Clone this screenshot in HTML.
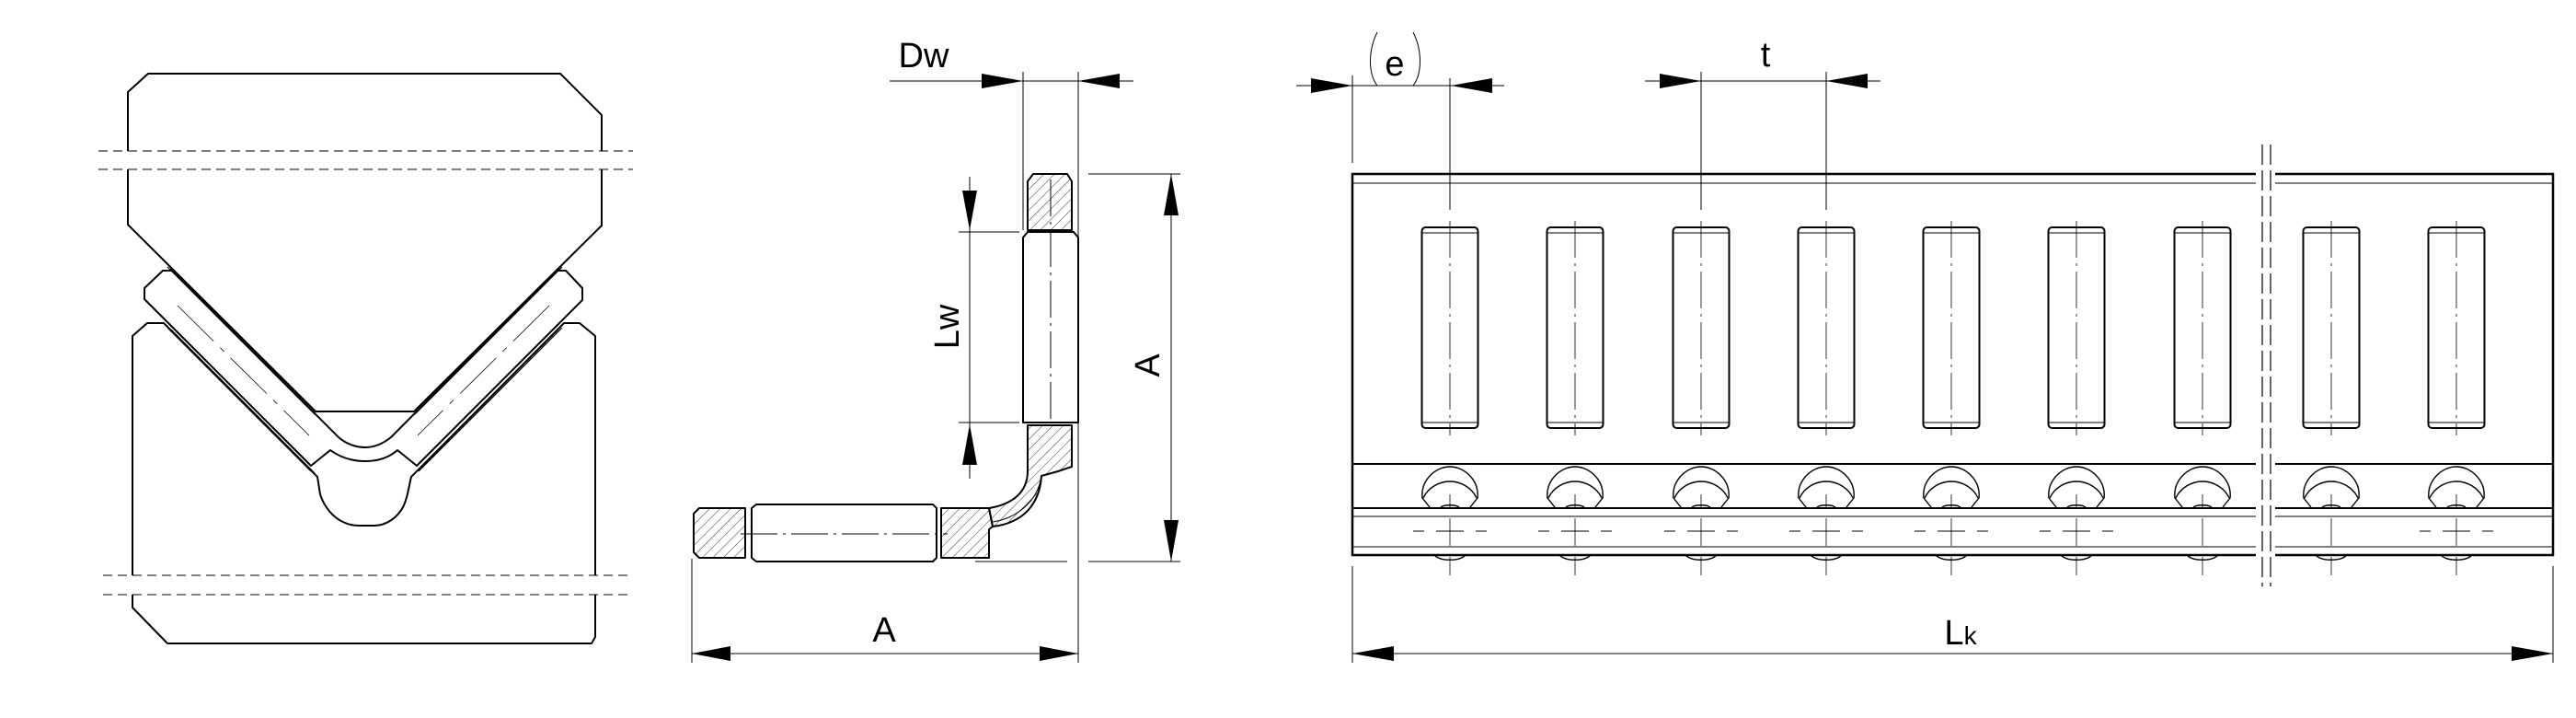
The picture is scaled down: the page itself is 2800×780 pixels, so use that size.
<!DOCTYPE html>
<html><head><meta charset="utf-8"><style>
html,body{margin:0;padding:0;background:#fff;}
svg{display:block;}
text{font-family:"Liberation Sans",sans-serif;font-size:38px;fill:#000;}
</style></head><body>
<svg width="2800" height="780" viewBox="0 0 2800 780" xmlns="http://www.w3.org/2000/svg">
<defs>
<pattern id="h" width="8" height="8" patternUnits="userSpaceOnUse" patternTransform="rotate(45)">
<line x1="0" y1="0" x2="0" y2="8" stroke="#000" stroke-width="0.8"/>
</pattern>
<g id="rol">
<rect x="-30.5" y="247" width="61" height="218" rx="4" fill="none" stroke="#000" stroke-width="2"/>
<line x1="-30" y1="253" x2="30" y2="253" stroke="#000" stroke-width="1"/>
<line x1="-30" y1="459" x2="30" y2="459" stroke="#000" stroke-width="1"/>
<line x1="0" y1="240" x2="0" y2="473" stroke="#000" stroke-width="0.8" stroke-dasharray="40,6,3,6"/>
</g>
<g id="ball" fill="none" stroke="#000" stroke-width="1.4">
<path d="M-22,551 L-30,541 C-32,522 -16,507 0,507 C16,507 32,522 30,541 L22,551"/>
<path d="M-29,541 C-24,530 -12,523 0,523 C12,523 24,530 29,541"/>
<path d="M-10,551 C-6,548 6,548 10,551"/>
<path d="M-17,603 C-10,610 10,610 17,603"/>
<line x1="0" y1="537" x2="0" y2="551" stroke-width="0.8"/>
<line x1="0" y1="563" x2="0" y2="593" stroke-width="0.8"/>
<line x1="0" y1="605" x2="0" y2="625" stroke-width="0.8"/>
</g>
<g id="cross" stroke="#000" stroke-width="1">
<line x1="-15" y1="577" x2="15" y2="577"/>
<line x1="-40" y1="577" x2="-28" y2="577"/>
<line x1="28" y1="577" x2="40" y2="577"/>
</g>
</defs>

<g fill="none" stroke="#000" stroke-width="2" stroke-linejoin="round">
<!-- top block -->
<path d="M139,164 L139,100 L161,80 L609,80 L654,125 L654,164"/>
<path d="M139,184 L139,244 L343,447 L450,447 L654,245 L654,184"/>
<!-- bottom block -->
<path d="M144,625 L144,365 L160,351 L178,351 L345,518 L348,537 C352,550 362,563 375,568 C382,571 388,571 393,571 L407,571 C420,571 432,562 438,551 C443,541 444,530 447,518 L613,351 L630,351 L647,365 L647,625"/>
<path d="M144,646 L144,660 L182,699 L643,699 L647,692 L647,646"/>
<!-- chevron cage -->
<path d="M177,294 L157,313 L157,325 L338,506 L359,489 C370,497 383,501 397,501 C411,501 423,497 432,489 L453,506 L633,326 L633,313 L615,294 L605,294 L425,475 C415,483 406,486 397,486 C388,486 377,483 368,475 L187,294 Z"/>
</g>
<g fill="none" stroke="#000" stroke-width="1.2">
<line x1="185" y1="292" x2="345" y2="452"/>
<line x1="182" y1="290" x2="342" y2="450"/>
<line x1="186" y1="358" x2="342" y2="514"/>
<line x1="182" y1="356" x2="338" y2="512"/>
<line x1="608" y1="292" x2="448" y2="452"/>
<line x1="611" y1="290" x2="451" y2="450"/>
<line x1="607" y1="358" x2="451" y2="514"/>
<line x1="611" y1="356" x2="455" y2="512"/>
</g>
<g fill="none" stroke="#000" stroke-width="0.8">
<line x1="193" y1="332" x2="336" y2="473" stroke-dasharray="55,10,6,10"/>
<line x1="597" y1="332" x2="454" y2="473" stroke-dasharray="55,10,6,10"/>
<g stroke-dasharray="10,6" stroke-width="1">
<line x1="107" y1="164" x2="688" y2="164"/>
<line x1="107" y1="184" x2="688" y2="184"/>
<line x1="112" y1="625" x2="682" y2="625"/>
<line x1="112" y1="646" x2="682" y2="646"/>
</g>
</g>

<!-- L roller -->
<g stroke="#000" stroke-width="2" stroke-linejoin="round">
<path d="M1117,250 L1117,197 L1123,189 L1160,189 L1165,197 L1165,250 Z" fill="url(#h)"/>
<path d="M1112,459 L1112,258 L1117,252 L1167,252 L1172,258 L1172,459 Z" fill="none"/>
<path d="M1117,462 L1165,462 L1165,507 L1150,512 L1132,517 C1130,548 1112,568 1079,572 L1075,552 C1100,548 1117,535 1117,512 Z" fill="url(#h)"/>
<path d="M1023,552 L1075,552 L1079,572 L1075,575 L1075,606 L1023,606 Z" fill="url(#h)"/>
<path d="M817,552 L822,548 L1014,548 L1018,552 L1018,606 L1014,610 L822,610 L817,606 Z" fill="none"/>
<path d="M810,552 L760,552 L754,558 L754,600 L760,606 L810,606 Z" fill="url(#h)"/>
</g>
<g fill="none" stroke="#000" stroke-width="1">
<path d="M1132,517 C1128,545 1105,563 1079,567"/>
<line x1="1142" y1="195" x2="1142" y2="460" stroke-dasharray="40,6,3,6"/>
<line x1="805" y1="580" x2="1030" y2="580" stroke-dasharray="40,6,3,6"/>
<!-- dims -->
<line x1="967" y1="88" x2="1232" y2="88"/>
<line x1="1112" y1="78" x2="1112" y2="250"/>
<line x1="1172" y1="78" x2="1172" y2="720"/>
<line x1="1054" y1="192" x2="1054" y2="520"/>
<line x1="1042" y1="252" x2="1108" y2="252"/>
<line x1="1042" y1="459" x2="1108" y2="459"/>
<line x1="1273" y1="189" x2="1273" y2="610"/>
<line x1="1183" y1="189" x2="1283" y2="189"/>
<line x1="1183" y1="610" x2="1283" y2="610"/>
<line x1="1060" y1="610" x2="1160" y2="610"/>
<line x1="752" y1="710" x2="1172" y2="710"/>
<line x1="752" y1="607" x2="752" y2="720"/>
</g>
<g fill="#000">
<polygon points="1067,80 1112,88 1067,96"/>
<polygon points="1217,80 1172,88 1217,96"/>
<polygon points="1046,207 1062,207 1054,250"/>
<polygon points="1046,505 1062,505 1054,461"/>
<polygon points="1265,234 1281,234 1273,189"/>
<polygon points="1265,565 1281,565 1273,610"/>
<polygon points="794,702 752,710 794,718"/>
<polygon points="1130,702 1172,710 1130,718"/>
</g>
<text x="1004" y="73" text-anchor="middle">Dw</text>
<text x="961" y="697" text-anchor="middle">A</text>
<text transform="translate(1042,355) rotate(-90)" text-anchor="middle">Lw</text>
<text transform="translate(1260,397) rotate(-90)" text-anchor="middle">A</text>

<!-- rail -->
<g fill="none" stroke="#000">
<path d="M2452,189 L1470,189 L1470,603 L2452,603" stroke-width="2.5"/>
<path d="M2473,189 L2775,189 L2775,603 L2473,603" stroke-width="2.5"/>
<g stroke-width="1">
<line x1="1470" y1="199" x2="2452" y2="199"/><line x1="2473" y1="199" x2="2775" y2="199"/>
<line x1="1470" y1="594" x2="2452" y2="594"/><line x1="2473" y1="594" x2="2775" y2="594"/>
<line x1="1470" y1="561" x2="2452" y2="561"/><line x1="2473" y1="561" x2="2775" y2="561"/>
</g>
<g stroke-width="2">
<line x1="1470" y1="504" x2="2452" y2="504"/><line x1="2473" y1="504" x2="2775" y2="504"/>
<line x1="1470" y1="552" x2="2452" y2="552"/><line x1="2473" y1="552" x2="2775" y2="552"/>
</g>
<g stroke-width="1.2" stroke-dasharray="22,6">
<line x1="2459" y1="157" x2="2459" y2="637"/>
<line x1="2468" y1="157" x2="2468" y2="637"/>
</g>
</g>
<use href="#rol" x="1576"/><use href="#rol" x="1712"/><use href="#rol" x="1849"/><use href="#rol" x="1985"/><use href="#rol" x="2121"/><use href="#rol" x="2257"/><use href="#rol" x="2394"/><use href="#rol" x="2534"/><use href="#rol" x="2670"/>
<use href="#ball" x="1576"/><use href="#ball" x="1712"/><use href="#ball" x="1849"/><use href="#ball" x="1985"/><use href="#ball" x="2121"/><use href="#ball" x="2257"/><use href="#ball" x="2394"/><use href="#ball" x="2534"/><use href="#ball" x="2670"/>
<use href="#cross" x="1576"/><use href="#cross" x="1712"/><use href="#cross" x="1849"/><use href="#cross" x="1985"/><use href="#cross" x="2121"/><use href="#cross" x="2257"/><use href="#cross" x="2670"/>
<g fill="none" stroke="#000" stroke-width="1">
<line x1="1409" y1="93" x2="1635" y2="93"/>
<line x1="1470" y1="82" x2="1470" y2="177"/>
<line x1="1576" y1="85" x2="1576" y2="228"/>
<line x1="1788" y1="88" x2="2044" y2="88"/>
<line x1="1849" y1="78" x2="1849" y2="228"/>
<line x1="1985" y1="78" x2="1985" y2="228"/>
<line x1="1470" y1="710" x2="2775" y2="710"/>
<line x1="1470" y1="615" x2="1470" y2="720"/>
<line x1="2775" y1="615" x2="2775" y2="720"/>
<path d="M1497,35 C1487,55 1487,80 1497,93"/>
<path d="M1536,35 C1546,55 1546,80 1536,93"/>
</g>
<g fill="#000">
<polygon points="1425,85 1470,93 1425,101"/>
<polygon points="1622,85 1577,93 1622,101"/>
<polygon points="1804,80 1849,88 1804,96"/>
<polygon points="2030,80 1985,88 2030,96"/>
<polygon points="1515,702 1470,710 1515,718"/>
<polygon points="2730,702 2775,710 2730,718"/>
</g>
<text x="1516" y="82" text-anchor="middle">e</text>
<text x="1919" y="72" text-anchor="middle">t</text>
<text x="2131" y="700" text-anchor="middle">L<tspan font-size="28">k</tspan></text>
</svg>
</body></html>
